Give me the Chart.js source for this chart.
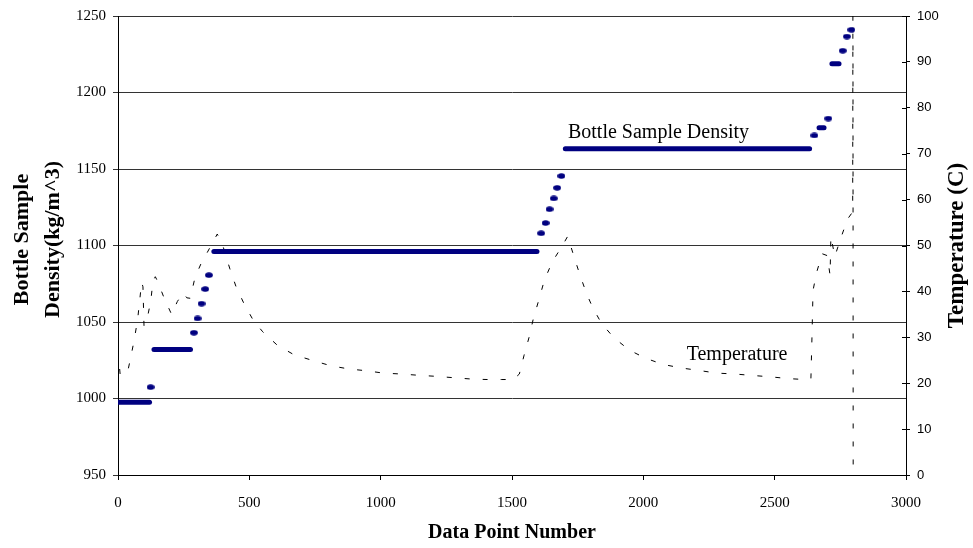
<!DOCTYPE html>
<html><head><meta charset="utf-8">
<script src="https://cdn.jsdelivr.net/npm/chart.js@4.4.0/dist/chart.umd.min.js"></script>
<style>html,body{margin:0;padding:0;background:#fff}canvas{display:block}</style>
</head><body>
<canvas id="c" width="973" height="548"></canvas>
<script>
// ---- tick labels ----
const xTicks = [0, 500, 1000, 1500, 2000, 2500, 3000];
const densityTicks = [950, 1000, 1050, 1100, 1150, 1200, 1250];
const tempTicks = [0, 10, 20, 30, 40, 50, 60, 70, 80, 90, 100];

// ---- bottle sample density: constant plateaus ----
const plateauStart   = [0,     137,  365,  1703,   2669, 2718];
const plateauEnd     = [120,   276,  1595, 2633,   2688, 2745];
const plateauDensity = [997.6, 1032, 1096, 1163.3, 1177, 1218.8];

// ---- bottle sample density: single samples during steps ----
const dotPoint   = [124, 289, 303, 318, 332, 346, 1611, 1628, 1643, 1659, 1672, 1688, 2651, 2704, 2759, 2775, 2792];
const dotDensity = [1007.4, 1043, 1052.3, 1062, 1071.5, 1080.6, 1108, 1114.7, 1123.7, 1130.8, 1137.7, 1145.4, 1171.9, 1183, 1227.3, 1236.6, 1241];

// ---- temperature ----
const tempPoint = [0, 8, 35, 48, 62, 75, 90, 95, 99, 113, 125, 133, 142, 150, 176, 204, 226, 248, 262, 275, 293, 321, 340, 378, 401, 426, 449, 480, 515, 551, 606, 670, 744, 810, 879, 947, 1010, 1080, 1150, 1210, 1277, 1347, 1406, 1461, 1505, 1528, 1546, 1565, 1581, 1603, 1623, 1653, 1692, 1712, 1736, 1759, 1784, 1807, 1841, 1888, 1947, 2006, 2074, 2146, 2209, 2279, 2349, 2412, 2482, 2552, 2615, 2638, 2642, 2646, 2660, 2681, 2700, 2711, 2714, 2729, 2751, 2778, 2793, 2797, 2798, 2799];
const tempValue = [27, 22, 22, 25.5, 29.5, 34, 42, 41, 32.5, 34.6, 38, 42.2, 43.2, 42.3, 38.5, 35, 37.8, 39.7, 38.6, 38.5, 43, 46.7, 48.5, 52.5, 49.6, 44.9, 41.1, 37.3, 33.7, 31.2, 28.3, 26.2, 24.9, 23.8, 23.1, 22.7, 22.2, 22.0, 21.7, 21.5, 21.2, 20.9, 20.8, 20.8, 20.8, 22, 26.1, 30, 34, 38.3, 42.4, 46.4, 50, 52, 47.6, 43.5, 39.5, 36.5, 33, 29.9, 27.2, 25.5, 24.1, 23.3, 22.8, 22.2, 22, 21.7, 21.4, 21, 20.8, 21, 30, 40.2, 44.2, 48.2, 47.8, 43.5, 52, 47.6, 51.5, 55.8, 57, 58, 110, -10];

const NAVY = '#000080';
const SERIF = '"Liberation Serif", "Times New Roman", serif';
const SANS = '"Liberation Sans", Arial, sans-serif';

// elliptical marker like the original
const dotImg = document.createElement('canvas');
dotImg.width = 8; dotImg.height = 6;
(function(){ const g = dotImg.getContext('2d'); g.fillStyle = NAVY; g.beginPath(); g.ellipse(4, 3, 3.9, 2.7, 0, 0, Math.PI*2); g.fill(); })();

const datasets = [];
datasets.push({
  label: 'Temperature', yAxisID: 'y1',
  data: tempPoint.map((x, i) => ({x, y: tempValue[i]})),
  borderColor: '#000', borderWidth: 1, borderDash: [5, 13],
  pointRadius: 0, tension: 0, fill: false, order: 2
});
plateauStart.forEach((s, i) => {
  datasets.push({
    label: 'Bottle Sample Density', yAxisID: 'y',
    data: [{x: s, y: plateauDensity[i]}, {x: plateauEnd[i], y: plateauDensity[i]}],
    borderColor: NAVY, borderWidth: 5, borderCapStyle: 'round',
    pointRadius: 0, fill: false, order: 1
  });
});
datasets.push({
  label: 'Bottle Sample Density', yAxisID: 'y', showLine: false,
  data: dotPoint.map((x, i) => ({x, y: dotDensity[i]})),
  pointStyle: dotImg, pointRadius: 4, borderWidth: 0, backgroundColor: NAVY, order: 0
});

const decor = {
  id: 'decor',
  afterDraw(chart) {
    const {ctx, chartArea: a, scales} = chart;
    ctx.save();
    ctx.strokeStyle = '#000'; ctx.lineWidth = 1;
    tempTicks.forEach(v => {
      const y = Math.round(scales.y1.getPixelForValue(v)) + 0.5;
      ctx.beginPath(); ctx.moveTo(a.right - 4, y); ctx.lineTo(a.right, y); ctx.stroke();
    });
    ctx.fillStyle = '#000';
    ctx.font = '20px ' + SERIF; ctx.textAlign = 'left'; ctx.textBaseline = 'middle';
    ctx.fillText('Bottle Sample Density', scales.x.getPixelForValue(1713), scales.y.getPixelForValue(1174));
    ctx.fillText('Temperature', scales.x.getPixelForValue(2165), scales.y1.getPixelForValue(26.1));

    ctx.font = 'bold 20px ' + SERIF; ctx.textAlign = 'center'; ctx.textBaseline = 'middle';
    ctx.fillText('Data Point Number', (a.left + a.right) / 2, 533);

    const cy = (a.top + a.bottom) / 2;
    ctx.font = 'bold 22px ' + SERIF; ctx.textBaseline = 'alphabetic';
    ctx.save(); ctx.translate(28, cy - 6); ctx.rotate(-Math.PI / 2); ctx.fillText('Bottle Sample', 0, 0); ctx.restore();
    ctx.save(); ctx.translate(59, cy - 6); ctx.rotate(-Math.PI / 2); ctx.fillText('Density(kg/m^3)', 0, 0); ctx.restore();
    ctx.font = 'bold 23px ' + SERIF;
    ctx.save(); ctx.translate(963, cy); ctx.rotate(-Math.PI / 2); ctx.fillText('Temperature (C)', 0, 0); ctx.restore();
    ctx.restore();
  }
};

new Chart(document.getElementById('c'), {
  type: 'line',
  data: {datasets},
  plugins: [decor],
  options: {
    responsive: false, animation: false, devicePixelRatio: 1,
    layout: {padding: {top: 15, left: 0, right: 0, bottom: 0}},
    plugins: {legend: {display: false}, tooltip: {enabled: false}},
    scales: {
      x: {
        type: 'linear', position: 'bottom', min: 0, max: 3000,
        afterBuildTicks: s => { s.ticks = xTicks.map(v => ({value: v})); },
        afterFit: s => { s.height = 73; },
        grid: {drawOnChartArea: false, drawTicks: true, tickLength: 5, color: '#000'},
        border: {display: true, color: '#000', width: 1},
        ticks: {callback: v => String(v), color: '#000', padding: 14, maxRotation: 0, font: {family: SERIF, size: 15}}
      },
      y: {
        type: 'linear', position: 'left', min: 950, max: 1250,
        afterBuildTicks: s => { s.ticks = densityTicks.map(v => ({value: v})); },
        afterFit: s => { s.width = 118; },
        grid: {drawOnChartArea: true, drawTicks: true, tickLength: 5, color: '#333', lineWidth: 1},
        border: {display: true, color: '#000', width: 1},
        ticks: {callback: v => String(v), color: '#000', padding: 7, font: {family: SERIF, size: 15}}
      },
      y1: {
        type: 'linear', position: 'right', min: 0, max: 100,
        afterBuildTicks: s => { s.ticks = tempTicks.map(v => ({value: v})); },
        afterFit: s => { s.width = 67; },
        grid: {drawOnChartArea: false, drawTicks: true, tickLength: 4, color: '#000'},
        border: {display: true, color: '#000', width: 1},
        ticks: {callback: v => String(v), color: '#000', padding: 7, font: {family: SANS, size: 13}}
      }
    }
  }
});
</script>
</body></html>
